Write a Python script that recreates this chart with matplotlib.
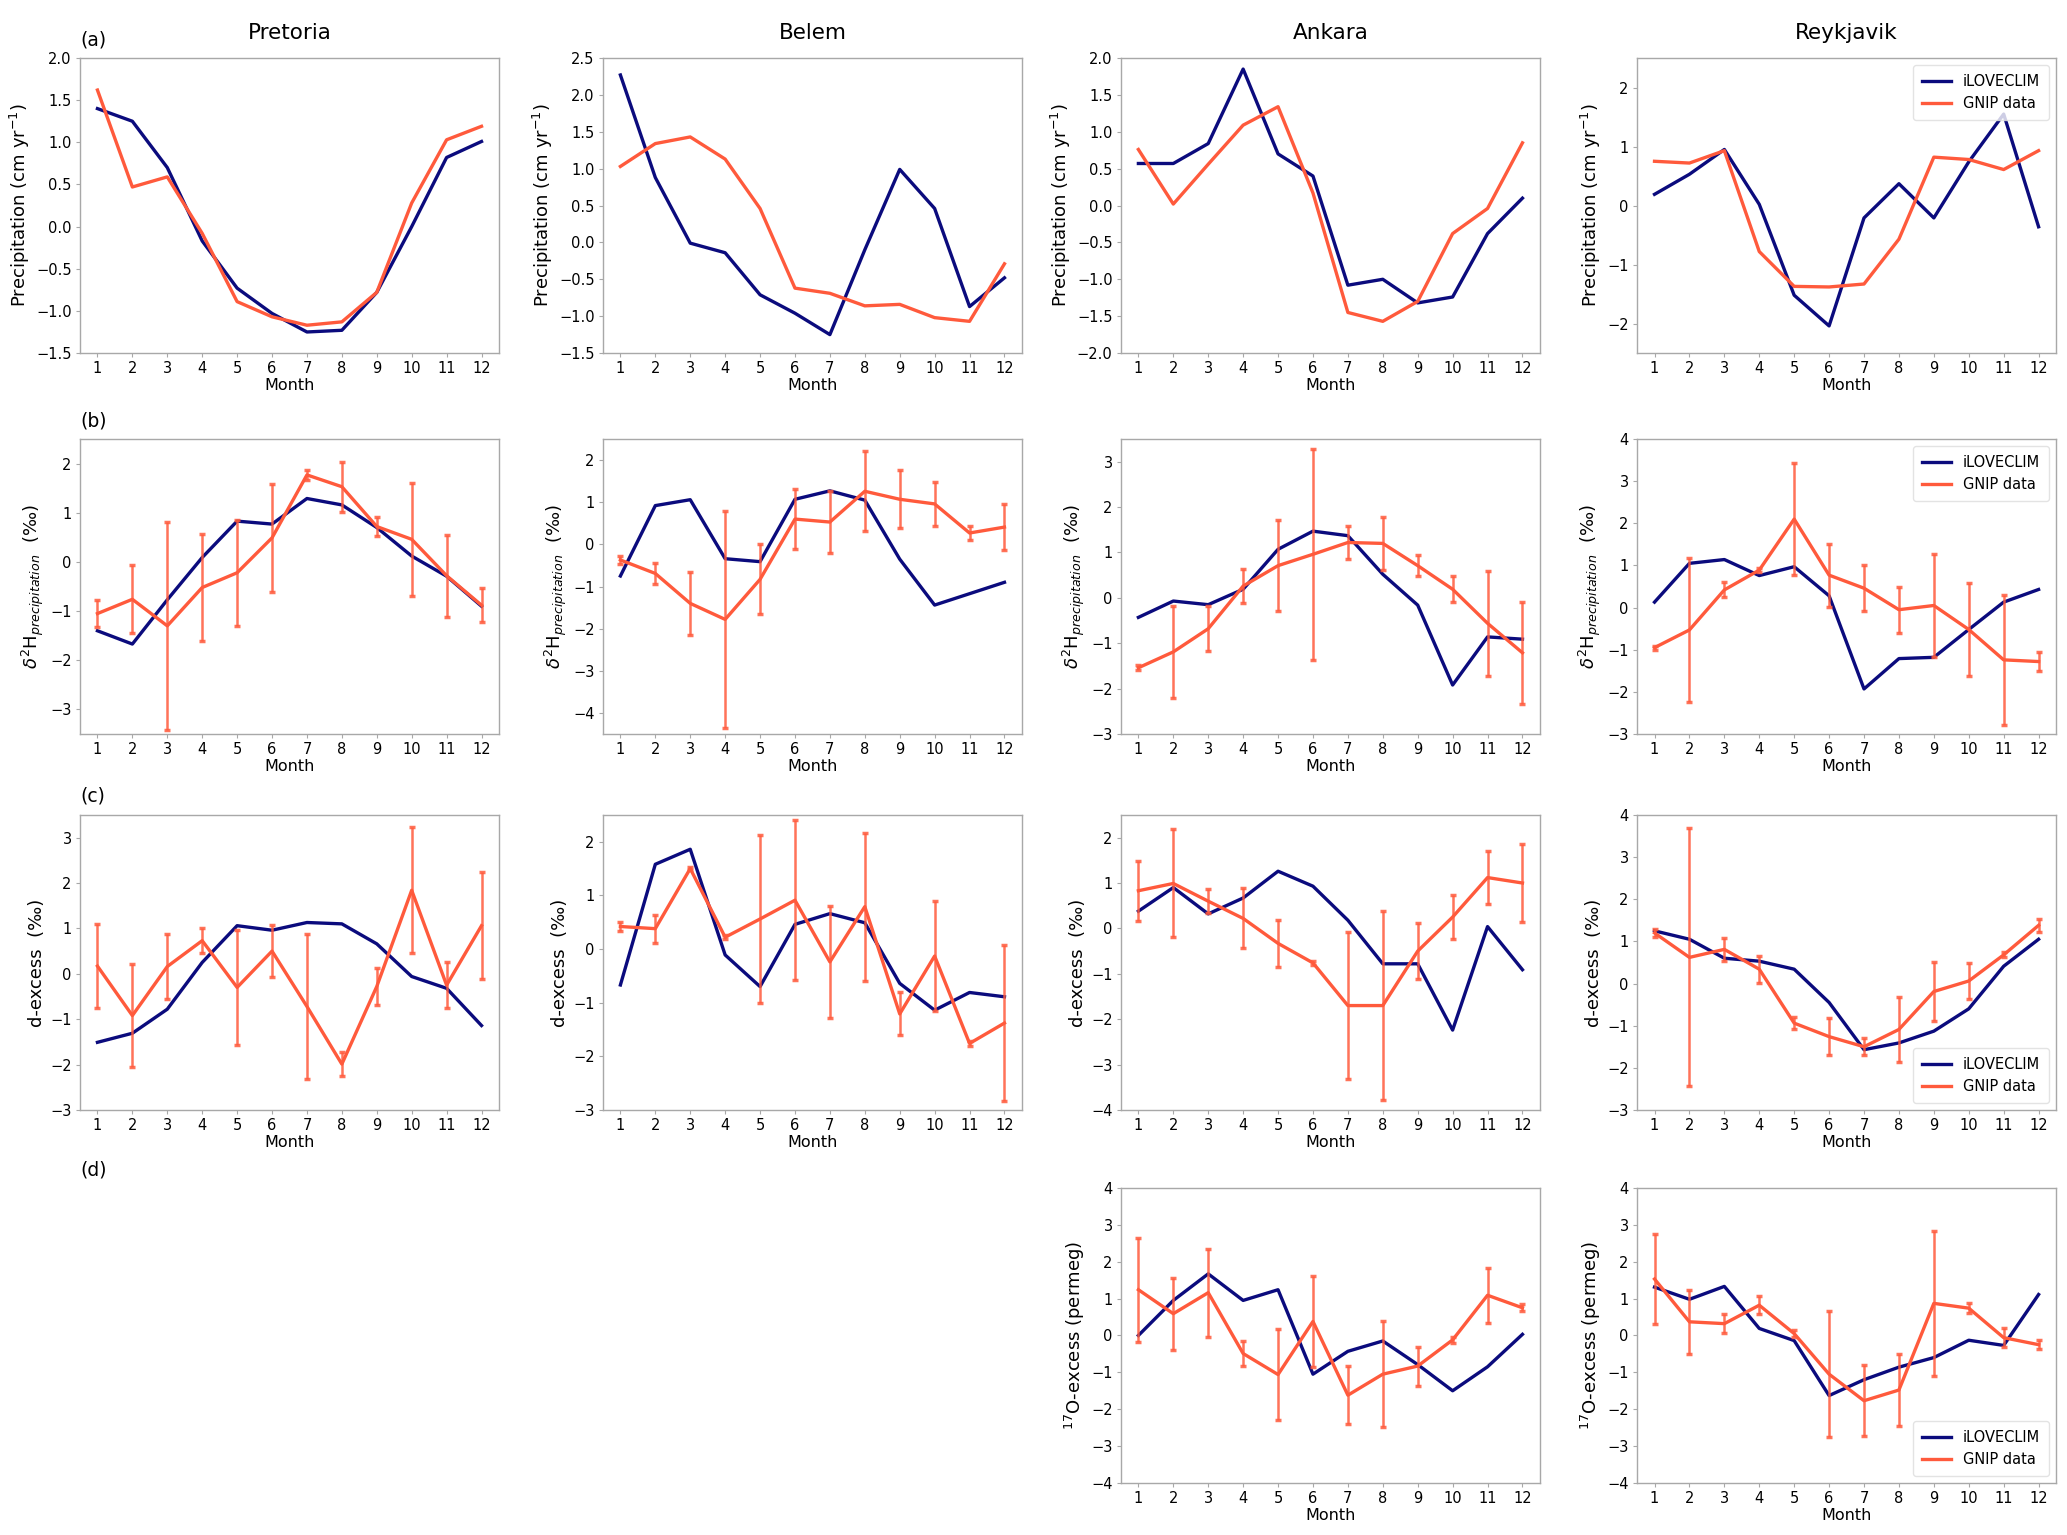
import numpy as np
import matplotlib
matplotlib.use('Agg')
import matplotlib.pyplot as plt

# months on the x axis
months = np.arange(1, 13)
sites = ['Pretoria', 'Belem', 'Ankara', 'Reykjavik']

# (a) precipitation anomalies, iLOVECLIM vs GNIP
prec_model = {
    'Pretoria': [1.40, 1.25, 0.70, -0.17, -0.73, -1.03, -1.25, -1.23, -0.78, 0.0, 0.82, 1.01],
    'Belem': [2.27, 0.88, -0.01, -0.14, -0.71, -0.96, -1.25, -0.10, 0.99, 0.46, -0.87, -0.48],
    'Ankara': [0.57, 0.57, 0.84, 1.85, 0.70, 0.40, -1.08, -1.00, -1.32, -1.24, -0.38, 0.10],
    'Reykjavik': [0.19, 0.53, 0.95, 0.02, -1.52, -2.04, -0.21, 0.37, -0.21, 0.74, 1.55, -0.36],
}
prec_gnip = {
    'Pretoria': [1.62, 0.47, 0.59, -0.08, -0.89, -1.07, -1.17, -1.13, -0.78, 0.28, 1.03, 1.19],
    'Belem': [1.03, 1.34, 1.43, 1.13, 0.46, -0.62, -0.69, -0.86, -0.84, -1.02, -1.07, -0.29],
    'Ankara': [0.76, 0.02, 0.56, 1.09, 1.34, 0.17, -1.45, -1.57, -1.30, -0.38, -0.04, 0.85],
    'Reykjavik': [0.75, 0.72, 0.93, -0.78, -1.37, -1.38, -1.33, -0.57, 0.82, 0.78, 0.61, 0.93],
}

# (b) d2H of precipitation
d2h_model = {
    'Pretoria': [-1.40, -1.67, -0.77, 0.09, 0.83, 0.77, 1.29, 1.16, 0.70, 0.12, -0.29, -0.90],
    'Belem': [-0.75, 0.92, 1.06, -0.34, -0.41, 1.07, 1.27, 1.05, -0.35, -1.44, -1.17, -0.90],
    'Ankara': [-0.43, -0.07, -0.15, 0.19, 1.07, 1.47, 1.37, 0.52, -0.16, -1.92, -0.86, -0.91],
    'Reykjavik': [0.13, 1.05, 1.14, 0.76, 0.97, 0.28, -1.93, -1.21, -1.18, -0.52, 0.13, 0.43],
}
d2h_gnip = {
    'Pretoria': [-1.05, -0.76, -1.30, -0.52, -0.22, 0.49, 1.77, 1.53, 0.72, 0.46, -0.28, -0.88],
    'Belem': [-0.37, -0.69, -1.40, -1.78, -0.83, 0.60, 0.53, 1.26, 1.07, 0.96, 0.27, 0.41],
    'Ankara': [-1.54, -1.19, -0.68, 0.26, 0.71, 0.96, 1.22, 1.20, 0.71, 0.19, -0.56, -1.21],
    'Reykjavik': [-0.95, -0.53, 0.42, 0.89, 2.10, 0.77, 0.46, -0.05, 0.05, -0.52, -1.24, -1.28],
}
d2h_err = {
    'Pretoria': [0.27, 0.69, 2.12, 1.08, 1.08, 1.10, 0.10, 0.51, 0.20, 1.15, 0.83, 0.34],
    'Belem': [0.09, 0.25, 0.75, 2.58, 0.83, 0.71, 0.74, 0.95, 0.69, 0.53, 0.16, 0.55],
    'Ankara': [0.05, 1.01, 0.50, 0.38, 1.00, 2.32, 0.37, 0.59, 0.23, 0.29, 1.16, 1.13],
    'Reykjavik': [0.05, 1.70, 0.18, 0.05, 1.33, 0.75, 0.55, 0.55, 1.22, 1.10, 1.55, 0.22],
}

# (c) d-excess
dex_model = {
    'Pretoria': [-1.51, -1.31, -0.78, 0.25, 1.06, 0.96, 1.13, 1.10, 0.66, -0.06, -0.32, -1.14],
    'Belem': [-0.67, 1.58, 1.86, -0.11, -0.70, 0.46, 0.66, 0.49, -0.64, -1.14, -0.81, -0.89],
    'Ankara': [0.38, 0.90, 0.32, 0.67, 1.26, 0.93, 0.18, -0.78, -0.78, -2.24, 0.04, -0.91],
    'Reykjavik': [1.25, 1.05, 0.60, 0.53, 0.34, -0.45, -1.57, -1.41, -1.13, -0.60, 0.41, 1.05],
}
dex_gnip = {
    'Pretoria': [0.17, -0.92, 0.16, 0.73, -0.30, 0.50, -0.72, -1.99, -0.28, 1.84, -0.25, 1.06],
    'Belem': [0.42, 0.38, 1.50, 0.22, 0.56, 0.91, -0.24, 0.79, -1.21, -0.13, -1.76, -1.38],
    'Ankara': [0.83, 0.99, 0.60, 0.22, -0.33, -0.76, -1.70, -1.70, -0.50, 0.25, 1.12, 1.00],
    'Reykjavik': [1.20, 0.62, 0.81, 0.34, -0.94, -1.26, -1.50, -1.09, -0.19, 0.06, 0.68, 1.38],
}
dex_err = {
    'Pretoria': [0.92, 1.13, 0.71, 0.27, 1.27, 0.58, 1.60, 0.27, 0.41, 1.39, 0.50, 1.18],
    'Belem': [0.08, 0.26, 0.03, 0.04, 1.56, 1.49, 1.05, 1.38, 0.40, 1.02, 0.04, 1.45],
    'Ankara': [0.66, 1.19, 0.26, 0.66, 0.52, 0.05, 1.61, 2.08, 0.61, 0.48, 0.59, 0.85],
    'Reykjavik': [0.09, 3.06, 0.27, 0.32, 0.15, 0.44, 0.20, 0.78, 0.71, 0.43, 0.06, 0.15],
}

# (d) 17O-excess, only Ankara and Reykjavik
o17_model = {
    'Ankara': [0.0, 0.95, 1.67, 0.95, 1.24, -1.05, -0.43, -0.15, -0.79, -1.50, -0.85, 0.03],
    'Reykjavik': [1.31, 0.98, 1.33, 0.19, -0.14, -1.63, -1.20, -0.86, -0.60, -0.13, -0.27, 1.11],
}
o17_gnip = {
    'Ankara': [1.24, 0.59, 1.16, -0.49, -1.06, 0.38, -1.62, -1.05, -0.83, -0.12, 1.09, 0.75],
    'Reykjavik': [1.53, 0.37, 0.32, 0.82, 0.05, -1.05, -1.77, -1.48, 0.87, 0.74, -0.06, -0.25],
}
o17_err = {
    'Ankara': [1.41, 0.98, 1.19, 0.35, 1.23, 1.23, 0.79, 1.44, 0.53, 0.08, 0.75, 0.10],
    'Reykjavik': [1.21, 0.86, 0.25, 0.25, 0.09, 1.70, 0.97, 0.98, 1.97, 0.13, 0.25, 0.12],
}

# axis ranges per row and site
ylims_a = {'Pretoria': (-1.5, 2.0), 'Belem': (-1.5, 2.5), 'Ankara': (-2.0, 2.0), 'Reykjavik': (-2.5, 2.5)}
yticks_a = {'Pretoria': np.arange(-1.5, 2.01, 0.5), 'Belem': np.arange(-1.5, 2.51, 0.5),
            'Ankara': np.arange(-2.0, 2.01, 0.5), 'Reykjavik': np.arange(-2, 3, 1)}
ylims_b = {'Pretoria': (-3.5, 2.5), 'Belem': (-4.5, 2.5), 'Ankara': (-3, 3.5), 'Reykjavik': (-3, 4)}
yticks_b = {'Pretoria': range(-3, 3), 'Belem': range(-4, 3), 'Ankara': range(-3, 4), 'Reykjavik': range(-3, 5)}
ylims_c = {'Pretoria': (-3, 3.5), 'Belem': (-3, 2.5), 'Ankara': (-4, 2.5), 'Reykjavik': (-3, 4)}
yticks_c = {'Pretoria': range(-3, 4), 'Belem': range(-3, 3), 'Ankara': range(-4, 3), 'Reykjavik': range(-3, 5)}

col_model = '#0b0b7d'
col_gnip = '#ff5a3c'
spine_col = '#a8a8a8'

plt.rcParams['font.family'] = ['DejaVu Sans']
plt.rcParams['mathtext.default'] = 'it'

fig = plt.figure(figsize=(20.67, 15.35), dpi=100)

lefts = [0.0387, 0.2917, 0.5423, 0.7920]
bottoms = [0.7700, 0.5218, 0.2769, 0.0339]
w, h = 0.2027, 0.1922


def panel(ax, model, gnip, err, ylim, yticks, ylabel, legend_loc=None):
    ax.plot(months, model, color=col_model, lw=2.4, label='iLOVECLIM')
    ax.plot(months, gnip, color=col_gnip, lw=2.4, label='GNIP data')
    if err is not None:
        ax.errorbar(months, gnip, yerr=err, fmt='none', ecolor=col_gnip, alpha=0.85,
                    elinewidth=1.8, capsize=2.5, capthick=2.5)
    ax.set_xlim(0.5, 12.5)
    ax.set_ylim(*ylim)
    ax.set_xticks(months)
    ax.set_yticks(list(yticks))
    ax.set_xlabel('Month', fontsize=11.5, labelpad=1)
    ax.set_ylabel(ylabel, fontsize=13, labelpad=3)
    for s in ax.spines.values():
        s.set_color(spine_col)
        s.set_linewidth(1.0)
    ax.tick_params(length=3, width=0.8, color=spine_col, labelsize=10.5, pad=3)
    if legend_loc:
        leg = ax.legend(loc=legend_loc, fontsize=10.5, frameon=True, fancybox=True,
                        handlelength=2.0, borderpad=0.6)
        leg.get_frame().set_edgecolor('#dddddd')


lab_prec = r'Precipitation (cm yr$^{-1}$)'
lab_d2h = r'$\delta^2$H$_{precipitation}$  (‰)'
lab_dex = 'd-excess  (‰)'
lab_o17 = r'$^{17}$O-excess (permeg)'

for j, site in enumerate(sites):
    loc1 = 'upper right' if site == 'Reykjavik' else None
    loc3 = 'lower right' if site == 'Reykjavik' else None

    ax = fig.add_axes([lefts[j], bottoms[0], w, h])
    panel(ax, prec_model[site], prec_gnip[site], None, ylims_a[site], yticks_a[site], lab_prec, loc1)
    ax.set_title(site, fontsize=15.5, pad=14)

    ax = fig.add_axes([lefts[j], bottoms[1], w, h])
    panel(ax, d2h_model[site], d2h_gnip[site], d2h_err[site], ylims_b[site], yticks_b[site], lab_d2h, loc1)

    ax = fig.add_axes([lefts[j], bottoms[2], w, h])
    panel(ax, dex_model[site], dex_gnip[site], dex_err[site], ylims_c[site], yticks_c[site], lab_dex, loc3)

    if site in o17_model:
        ax = fig.add_axes([lefts[j], bottoms[3], w, h])
        panel(ax, o17_model[site], o17_gnip[site], o17_err[site], (-4, 4), range(-4, 5), lab_o17, loc3)

# panel letters
for lab, yy in zip(['(a)', '(b)', '(c)', '(d)'], [0.974, 0.726, 0.4814, 0.238]):
    fig.text(0.0387, yy, lab, fontsize=13.5, va='center', ha='left')

fig.savefig('out.png', dpi=100)
